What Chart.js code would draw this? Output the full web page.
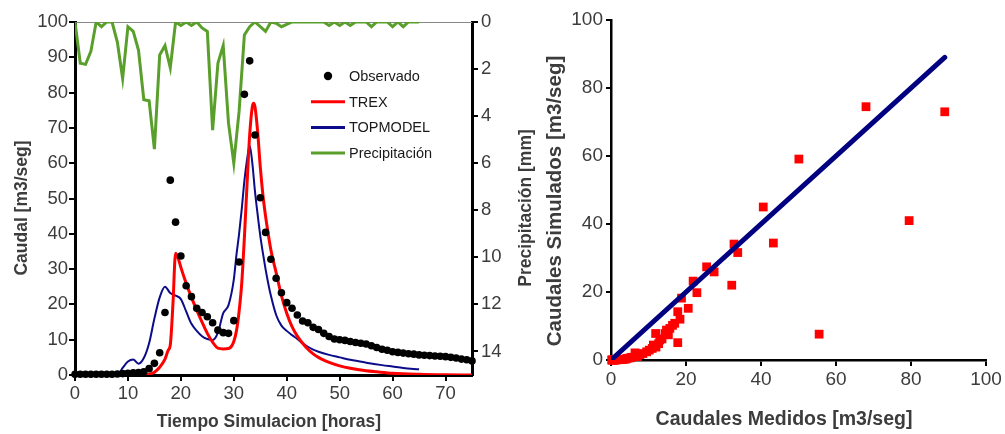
<!DOCTYPE html>
<html>
<head>
<meta charset="utf-8">
<script src="https://cdn.jsdelivr.net/npm/chart.js@4.4.0/dist/chart.umd.min.js"></script>
<style>
  html, body { margin: 0; padding: 0; background: #fff; }
  #wrap { position: relative; width: 1005px; height: 434px; overflow: hidden; }
  #izq { position: absolute; left: 0; top: 0; width: 545px; height: 434px; }
  #der { position: absolute; left: 540px; top: 0; width: 465px; height: 434px; }
</style>
</head>
<body>
<div id="wrap">
  <div id="izq"><canvas id="hidrograma"></canvas></div>
  <div id="der"><canvas id="dispersion"></canvas></div>
</div>
<script>
// Hidrograma: caudal observado (horario)
const horasObs = [0,1,2,3,4,5,6,7,8,9,10,11,12,13,14,15,16,17,18,19,20,21,22,23,24,25,26,27,28,29,30,31,32,33,34,35,36,37,38,39,40,41,42,43,44,45,46,47,48,49,50,51,52,53,54,55,56,57,58,59,60,61,62,63,64,65,66,67,68,69,70,71,72,73,74,75];
const caudalObs = [0.2,0.2,0.2,0.2,0.2,0.2,0.2,0.2,0.3,0.4,0.5,0.6,0.7,0.9,1.8,3.3,6.3,17.7,55.2,43.3,33.7,25.3,22.2,18.9,17.7,16.5,14.8,12.7,12,11.8,15.4,32,79.5,89,68,50.2,40.4,32.8,27.4,23.3,20.5,18.9,17,15.3,14.8,13.5,12.9,11.8,10.9,10.2,10,9.8,9.5,9.2,9,8.8,8.3,7.8,7.3,7,6.6,6.4,6.2,6,5.9,5.7,5.6,5.5,5.4,5.3,5.2,5,4.8,4.5,4.3,4];

// Caudal simulado TREX
const horasTrex = [0,13,14,15,16,17,17.6,18,18.5,19,19.5,20,21,22,23,24,25,26,27,28,29,29.5,30,30.5,31,31.5,32,32.5,33,33.5,33.75,34,34.5,35,35.5,36,36.5,37,38,39,40,41,42,43,44,45,46,47,48,50,52,55,57,60,65,70,75];
const caudalTrex = [0,0,0.2,0.8,2.2,4.5,7,8.5,20,34.5,33,30.5,26,22,18.4,15,11.8,9.3,7.6,7.4,7.5,8,9.5,12.5,18,26,39,54,68,76,77,76,69,59,51,45,40,35.5,29,22.5,17.5,13.7,11,9,7.3,6,5,4.2,3.6,2.6,1.9,1.2,0.9,0.5,0.2,0.05,0];

// Caudal simulado TOPMODEL
const horasTop = [0,8,9,10,11,12,13,14,15,16,17,18,19,20,21,22,23,24,25,26,27,28,29,30,30.5,31,31.5,32,32.5,33,33.5,34,34.5,35,35.5,36,36.5,37,38,39,40,41,42,43,44,45,46,48,50,52,55,58,60,62,65];
const caudalTop = [0,0,2,3.8,4.4,3.2,4.8,9,16,22,25,23.2,22.5,21.5,18,14.5,12.5,11,10.2,9.9,12,17.5,19.8,27,34,40,47,55,61,65,60,52,45.5,39.5,34.5,30,26,22.5,17,14,12.5,11.3,10.2,9,8,7.2,6.6,5.7,5,4.3,3.5,2.8,2.4,2,1.6];

// Precipitación [mm] (eje derecho invertido)
const horasPrec = [0,1,2,3,4,5,6,7,8,9,10,11,12,13,14,15,16,17,18,19,20,21,22,23,24,25,26,27,28,29,30,31,32,33,34,35,36,37,38,39,40,41,42,43,44,45,46,47,48,49,50,51,52,53,54,55,56,57,58,59,60,61,62,63,64,65];
const precip = [0,1.75,1.8,1.25,0,0.2,0,0,0.85,2.4,0.2,0.4,1.2,3.3,3.35,5.4,1.4,1.0,1.95,0,0.15,0,0.15,0,0.25,0.4,4.6,1.75,1.0,4.3,6.0,3.8,0.55,0.2,0,0.2,0.4,0,0.05,0.2,0.1,0,0,0,0,0,0,0,0.15,0,0.15,0,0.15,0,0,0,0.2,0,0,0,0.2,0,0.2,0,0,0];

// Dispersión: caudales medidos vs simulados
const medidos =   [0.2,0.3,0.5,0.8,1,1.3,1.6,2,2.5,3,3.5,4,4.3,5,5.5,6.4,7,7.7,8.5,9.5,10.2,11,11.3,12,11.9,12.7,13,13.6,14.4,14.8,15.3,15.7,16.4,17,17.8,17.8,18.4,18.8,20.6,21.9,22.9,25.5,27.5,32.2,32.8,33.8,40.6,43.3,50.1,55.5,68,79.5,89];
const simulados = [0,0,0,0,0,0,0.1,0.1,0.1,0.2,0.2,0.3,0.5,0.6,0.8,2.1,1,1.6,1.9,2.4,2.9,3.4,4.4,3.8,7.8,4.8,5.9,6.2,7.8,8.8,7.4,9.3,10.2,10.8,5.1,14.2,12,18.2,15.2,23.2,19.8,27.4,25.9,22,34.1,31.6,45,34.4,59.1,7.6,74.5,41,73];
// Recta 1:1
const rectaX = [0, 89];
const rectaY = [0, 89];

const FUENTE = "'Liberation Sans', Arial, sans-serif";
const GRIS = '#3c3c3c';

function pares(xs, ys) {
    return xs.map((x, i) => ({ x: x, y: ys[i] }));
}

// textos de ejes dibujados a mano (los verticales leen de abajo hacia arriba)
function rotulos(lista) {
    return {
        id: 'rotulos',
        afterDraw(chart) {
            const ctx = chart.ctx;
            ctx.save();
            ctx.fillStyle = GRIS;
            ctx.textAlign = 'center';
            ctx.textBaseline = 'middle';
            lista.forEach(r => {
                ctx.save();
                ctx.font = 'bold ' + r.size + 'px ' + FUENTE;
                ctx.translate(r.x, r.y);
                if (r.vertical) ctx.rotate(-Math.PI / 2);
                ctx.fillText(r.text, 0, 0);
                ctx.restore();
            });
            ctx.restore();
        }
    };
}

const marcoSuperior = {
    id: 'marcoSuperior',
    beforeDatasetsDraw(chart) {
        const a = chart.chartArea, ctx = chart.ctx;
        ctx.save();
        ctx.strokeStyle = '#888';
        ctx.lineWidth = 1;
        ctx.beginPath();
        ctx.moveTo(a.left, a.top + 0.5);
        ctx.lineTo(a.right, a.top + 0.5);
        ctx.stroke();
        ctx.restore();
    }
};

const leyenda = {
    id: 'leyenda',
    afterDraw(chart) {
        const ctx = chart.ctx;
        const x0 = 311, x1 = 345, y0 = 76, paso = 25.7;
        ctx.save();
        ctx.font = '14.5px ' + FUENTE;
        ctx.textBaseline = 'middle';
        chart.data.datasets.forEach((ds, i) => {
            const y = y0 + i * paso;
            if (ds.showLine === false) {
                ctx.fillStyle = ds.pointBackgroundColor;
                ctx.beginPath();
                ctx.arc((x0 + x1) / 2, y, 4.2, 0, Math.PI * 2);
                ctx.fill();
            } else {
                ctx.strokeStyle = ds.borderColor;
                ctx.lineWidth = 3;
                ctx.beginPath();
                ctx.moveTo(x0, y);
                ctx.lineTo(x1, y);
                ctx.stroke();
            }
            ctx.fillStyle = '#1a1a1a';
            ctx.fillText(ds.label, 349, y + 1);
        });
        ctx.restore();
    }
};

function ejeBase(extra) {
    return Object.assign({
        grid: { drawOnChartArea: false, drawTicks: true, tickLength: 6, color: '#000', lineWidth: 2 },
        border: { color: '#000', width: 3 },
        ticks: { color: GRIS, padding: 2, font: { family: FUENTE, size: 18.5 } },
        title: { display: false }
    }, extra);
}

new Chart(document.getElementById('hidrograma'), {
    type: 'line',
    data: {
        datasets: [
            { label: 'Observado', data: pares(horasObs, caudalObs), showLine: false, pointRadius: 3.8,
              pointBackgroundColor: '#000', pointBorderWidth: 0, yAxisID: 'y', clip: 6 },
            { label: 'TREX', data: pares(horasTrex, caudalTrex), borderColor: '#ff0000', borderWidth: 3,
              pointRadius: 0, cubicInterpolationMode: 'monotone', yAxisID: 'y' },
            { label: 'TOPMODEL', data: pares(horasTop, caudalTop), borderColor: '#0c0c8a', borderWidth: 2,
              pointRadius: 0, cubicInterpolationMode: 'monotone', yAxisID: 'y' },
            { label: 'Precipitación', data: pares(horasPrec, precip), borderColor: '#5a9f2c', borderWidth: 3,
              pointRadius: 0, tension: 0, yAxisID: 'y1' }
        ]
    },
    options: {
        responsive: true,
        maintainAspectRatio: false,
        animation: false,
        layout: { padding: { top: 22, left: 0, right: 0, bottom: 0 } },
        plugins: { legend: { display: false }, tooltip: { enabled: false } },
        scales: {
            x: ejeBase({ type: 'linear', min: 0, max: 75,
                ticks: { color: GRIS, padding: 2, stepSize: 10, includeBounds: false, font: { family: FUENTE, size: 18.5 } },
                afterFit: s => { s.height = 59; } }),
            y: ejeBase({ min: 0, max: 100,
                ticks: { color: GRIS, padding: 1, stepSize: 10, font: { family: FUENTE, size: 18.5 } },
                afterFit: s => { s.width = 75; } }),
            y1: ejeBase({ position: 'right', reverse: true, min: 0, max: 15,
                ticks: { color: GRIS, padding: 3, stepSize: 2, includeBounds: false, font: { family: FUENTE, size: 18.5 } },
                afterFit: s => { s.width = 73; } })
        }
    },
    plugins: [marcoSuperior, leyenda, rotulos([
        { text: 'Caudal [m3/seg]', x: 22, y: 208, size: 17.5, vertical: true },
        { text: 'Precipitación [mm]', x: 526, y: 208, size: 17.5, vertical: true },
        { text: 'Tiempo Simulacion [horas]', x: 269, y: 422, size: 17.5 }
    ])]
});

new Chart(document.getElementById('dispersion'), {
    type: 'scatter',
    data: {
        datasets: [
            { type: 'line', label: 'Recta', data: pares(rectaX, rectaY), borderColor: '#000080', borderWidth: 5,
              borderCapStyle: 'round', pointRadius: 0 },
            { label: 'TREX', data: pares(medidos, simulados), pointStyle: 'rect', pointRadius: 6.2,
              pointBackgroundColor: '#ff0000', pointBorderWidth: 0, clip: 8 }
        ]
    },
    options: {
        responsive: true,
        maintainAspectRatio: false,
        animation: false,
        layout: { padding: { top: 20, left: 0, right: 19, bottom: 0 } },
        plugins: { legend: { display: false }, tooltip: { enabled: false } },
        scales: {
            x: ejeBase({ type: 'linear', min: 0, max: 100,
                border: { color: '#000', width: 2.5 },
                grid: { drawOnChartArea: false, drawTicks: true, tickLength: 6, color: '#000', lineWidth: 2 },
                ticks: { color: GRIS, padding: 2, stepSize: 20, font: { family: FUENTE, size: 19 } },
                afterFit: s => { s.height = 74; } }),
            y: ejeBase({ min: 0, max: 100,
                border: { color: '#000', width: 2.5 },
                grid: { drawOnChartArea: false, drawTicks: true, tickLength: 5, color: '#000', lineWidth: 2 },
                ticks: { color: GRIS, padding: 3, stepSize: 20, font: { family: FUENTE, size: 19 } },
                afterFit: s => { s.width = 71; } })
        }
    },
    plugins: [rotulos([
        { text: 'Caudales Simulados [m3/seg]', x: 15, y: 201, size: 20.5, vertical: true },
        { text: 'Caudales Medidos [m3/seg]', x: 244, y: 420, size: 19.5 }
    ])]
});
</script>
</body>
</html>
